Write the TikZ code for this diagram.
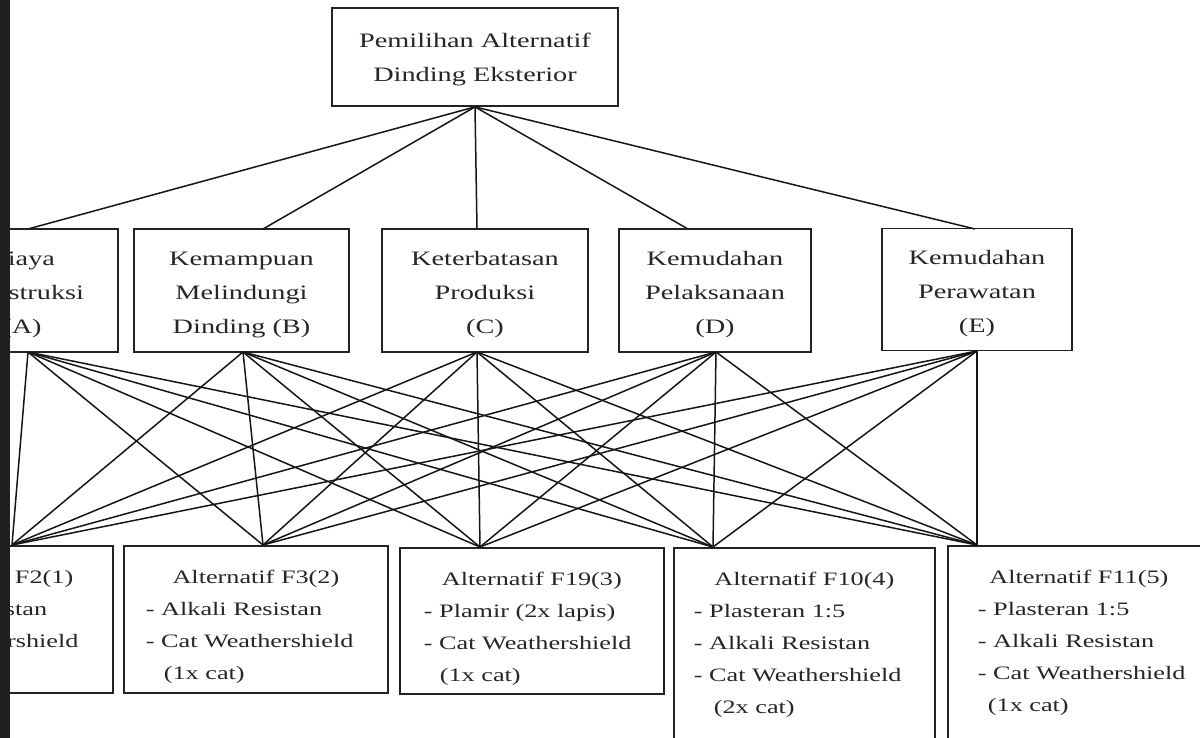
\documentclass[tikz,border=0pt]{standalone}
\usepackage{fontspec}
\setmainfont{Liberation Serif}[FakeStretch=1.38]

\definecolor{ink}{HTML}{222222}
\definecolor{textink}{HTML}{262626}
\definecolor{edge}{HTML}{161616}

\newcommand{\midfont}{\fontsize{20.5}{34}\selectfont}
\newcommand{\altfont}{\fontsize{19}{32}\selectfont}
% invisible struts that lower the first line of a label
\newcommand{\lowerby}[1]{\rule{0pt}{#1}}

% body of an alternative box: width, height, dash indent, title, items
\newcommand{\altbody}[5]{%
  \parbox[c][#2][t]{#1}{\altfont\parskip=0pt
    \vspace*{24pt}%
    {\centering #4\par}%
    \raggedright\leftskip=#3\relax #5\par}}

\tikzset{
  box/.style={draw=ink, line width=1.8pt, fill=white, inner sep=0pt, text=textink},
  midbox/.style={box, align=center, font=\midfont},
  altbox/.style={box, anchor=north west},
  link/.style={draw=edge, line width=1.5pt},
}

\begin{document}
\begin{tikzpicture}[x=1pt, y=-1pt]
  \useasboundingbox (0,0) rectangle (1200,738);
  \clip (0,0) rectangle (1200,738);
  \fill[white] (0,0) rectangle (1200,738);

  % goal
  \node[midbox, minimum width=286pt, minimum height=98pt] (T) at (475,57)
    {\lowerby{19pt}Pemilihan Alternatif\\Dinding Eksterior};

  % criteria
  \node[midbox, minimum width=192pt, minimum height=123pt] (A) at (22,290.5)
    {\lowerby{22pt}Biaya\\Konstruksi\\(A)};
  \node[midbox, minimum width=215pt, minimum height=123pt] (B) at (241.5,290.5)
    {\lowerby{22pt}Kemampuan\\Melindungi\\Dinding (B)};
  \node[midbox, minimum width=206pt, minimum height=123pt] (C) at (485,290.5)
    {\lowerby{22pt}Keterbatasan\\Produksi\\(C)};
  \node[midbox, minimum width=192pt, minimum height=123pt] (D) at (715,290.5)
    {\lowerby{22pt}Kemudahan\\Pelaksanaan\\(D)};
  \node[midbox, minimum width=190pt, minimum height=122pt] (E) at (977,289.5)
    {\lowerby{22pt}Kemudahan\\Perawatan\\(E)};

  % alternatives
  \node[altbox] (F2) at (-152,545)
    {\altbody{264pt}{147pt}{22pt}{\hspace*{18pt}Alternatif F2(1)}
      {- Alkali Resistan\\- Cat Weathershield}};
  \node[altbox] (F3) at (123,545)
    {\altbody{264pt}{147pt}{22pt}{Alternatif F3(2)}
      {- Alkali Resistan\\- Cat Weathershield\\\hspace*{18pt}(1x cat)}};
  \node[altbox] (F19) at (399,547)
    {\altbody{264pt}{146pt}{24pt}{Alternatif F19(3)}
      {- Plamir (2x lapis)\\- Cat Weathershield\\\hspace*{16pt}(1x cat)}};
  \node[altbox] (F10) at (673,547)
    {\altbody{261pt}{230pt}{20pt}{Alternatif F10(4)}
      {- Plasteran 1:5\\- Alkali Resistan\\- Cat Weathershield\\\hspace*{20pt}(2x cat)}};
  \node[altbox] (F11) at (947,545)
    {\altbody{262pt}{230pt}{30pt}{Alternatif F11(5)}
      {- Plasteran 1:5\\- Alkali Resistan\\- Cat Weathershield\\\hspace*{10pt}(1x cat)}};

  % attachment points on the box edges
  \coordinate (A-in) at (28,229);   \coordinate (A-out) at (28,352);
  \coordinate (B-in) at (263,229);  \coordinate (B-out) at (243,352);
  \coordinate (C-in) at (477,229);  \coordinate (C-out) at (477,352);
  \coordinate (D-in) at (688,229);  \coordinate (D-out) at (716,352);
  \coordinate (E-in) at (975,229);  \coordinate (E-out) at (977,351);
  \coordinate (F2-in) at (12,545);
  \coordinate (F3-in) at (263,545);
  \coordinate (F19-in) at (480,547);
  \coordinate (F10-in) at (713,547);
  \coordinate (F11-in) at (977,545);

  % goal to criteria
  \foreach \m in {A,B,C,D,E}
    \draw[link] (T.south) -- (\m-in);

  % every criterion to every alternative
  \foreach \m in {A,B,C,D,E}
    \foreach \f in {F2,F3,F19,F10,F11}
      \draw[link] (\m-out) -- (\f-in);

  % dark margin along the left side
  \fill[black!88] (0,0) rectangle (10,738);
\end{tikzpicture}
\end{document}
